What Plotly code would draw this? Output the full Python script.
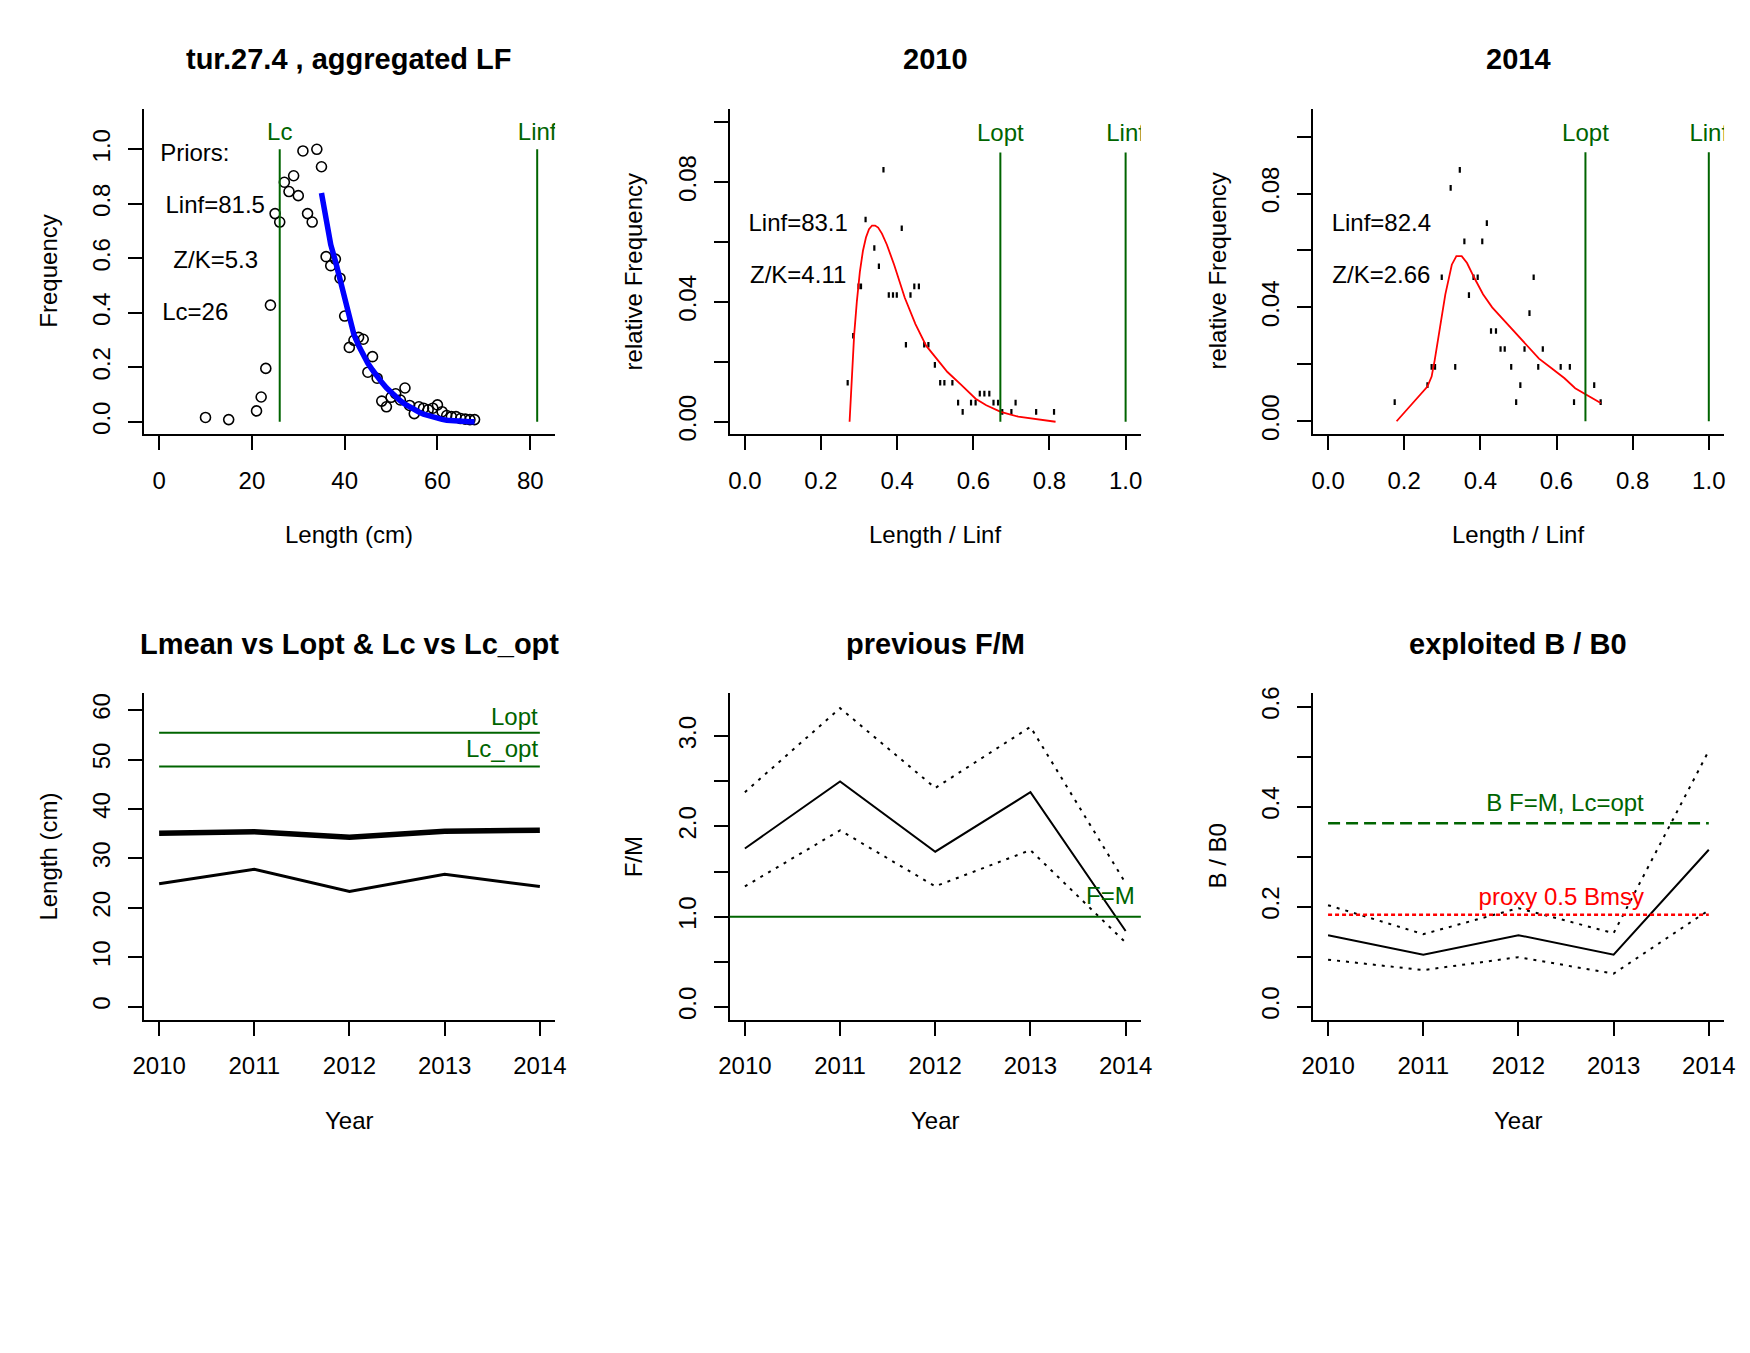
import plotly.graph_objects as go

# The page body keeps its default 8px margin; the figure is kept a little smaller than the
# 1750x1353 window so that nothing overflows, and reference pixel positions are shifted by it.
OFF = 8
W, H = 1730, 1330
FONT = "Arial, 'Liberation Sans', sans-serif"
GREEN = "#006400"

# ---------------- data ----------------
len_agg = [10, 15, 21, 22, 23, 24, 25, 26, 27, 28, 29, 30, 31, 32, 33, 34, 35, 36, 37, 38,
           39, 40, 41, 42, 43, 44, 45, 46, 47, 48, 49, 50, 51, 52, 53, 54, 55, 56, 57, 58,
           59, 60, 61, 62, 63, 64, 65, 66, 67, 68]
freq_agg = [0.016, 0.008, 0.040, 0.091, 0.196, 0.428, 0.764, 0.733, 0.879, 0.845, 0.903, 0.830,
            0.994, 0.764, 0.733, 1.000, 0.936, 0.606, 0.573, 0.597, 0.527, 0.388, 0.273, 0.299,
            0.310, 0.303, 0.182, 0.239, 0.160, 0.076, 0.055, 0.090, 0.103, 0.080, 0.124, 0.060,
            0.030, 0.055, 0.050, 0.044, 0.050, 0.062, 0.037, 0.023, 0.019, 0.019, 0.012, 0.010,
            0.008, 0.008]
len_fit = [35, 36, 37, 38, 39, 40, 41, 42, 43, 44, 45, 46, 47, 48, 49, 50, 51, 52, 53, 54, 55,
           56, 57, 58, 59, 60, 61, 62, 63, 64, 65, 66, 67, 68]
freq_fit = [0.84, 0.73, 0.65, 0.59, 0.52, 0.45, 0.38, 0.32, 0.28, 0.245, 0.215, 0.19, 0.165,
            0.145, 0.125, 0.107, 0.091, 0.077, 0.065, 0.054, 0.044, 0.036, 0.028, 0.022, 0.017,
            0.012, 0.009, 0.006, 0.004, 0.003, 0.002, 0.001, 0.0005, 0.0]
Linf_prior = 81.5
Lc_prior = 26
ZK_prior = 5.3

rel_2010 = [0.270, 0.2845, 0.2985, 0.305, 0.317, 0.340, 0.352, 0.364, 0.378, 0.389, 0.399, 0.412,
            0.423, 0.435, 0.445, 0.457, 0.471, 0.482, 0.499, 0.513, 0.524, 0.545, 0.560, 0.572,
            0.594, 0.606, 0.617, 0.629, 0.642, 0.653, 0.665, 0.676, 0.700, 0.711, 0.765, 0.812]
freq_2010 = [0.0130, 0.0287, 0.0452, 0.0452, 0.0675, 0.0580, 0.0519, 0.0841, 0.0423, 0.0423,
             0.0423, 0.0646, 0.0257, 0.0423, 0.0452, 0.0452, 0.0257, 0.0257, 0.0190, 0.0130,
             0.0130, 0.0130, 0.0064, 0.0033, 0.0064, 0.0064, 0.0094, 0.0094, 0.0094, 0.0064,
             0.0064, 0.0033, 0.0033, 0.0064, 0.0033, 0.0033]
fit_rel_2010 = [0.275, 0.278, 0.282, 0.287, 0.294, 0.302, 0.310, 0.318, 0.326, 0.334, 0.342, 0.350,
                0.360, 0.373, 0.392, 0.420, 0.448, 0.476, 0.504, 0.532, 0.569, 0.606, 0.634,
                0.672, 0.718, 0.756, 0.793, 0.816]
fit_2010 = [0.0, 0.008, 0.018, 0.029, 0.040, 0.050, 0.057, 0.0615, 0.0643, 0.0655, 0.0655, 0.0648,
            0.0628, 0.0591, 0.0524, 0.0414, 0.0326, 0.0254, 0.0210, 0.0166, 0.0122, 0.0077,
            0.0055, 0.0033, 0.0017, 0.0011, 0.0003, 0.0]
Linf_2010 = 83.1
ZK_2010 = 4.11
Lopt_rel_2010 = 0.671

rel_2014 = [0.175, 0.261, 0.272, 0.281, 0.2986, 0.322, 0.334, 0.346, 0.358, 0.370, 0.382, 0.393,
            0.405, 0.417, 0.428, 0.441, 0.453, 0.464, 0.481, 0.494, 0.505, 0.516, 0.529, 0.540,
            0.552, 0.564, 0.611, 0.635, 0.646, 0.699, 0.716]
freq_2014 = [0.0067, 0.0127, 0.0191, 0.0191, 0.0506, 0.0820, 0.0191, 0.0883, 0.0632, 0.0443,
             0.0506, 0.0506, 0.0632, 0.0696, 0.0317, 0.0317, 0.0254, 0.0254, 0.0191, 0.0067,
             0.0127, 0.0254, 0.0380, 0.0506, 0.0191, 0.0254, 0.0191, 0.0191, 0.0067, 0.0127,
             0.0067]
fit_rel_2014 = [0.180, 0.223, 0.261, 0.272, 0.280, 0.294, 0.308, 0.325, 0.337, 0.351, 0.365, 0.384,
                0.407, 0.431, 0.455, 0.488, 0.521, 0.554, 0.587, 0.621, 0.649, 0.678, 0.716]
fit_2014 = [0.0, 0.0064, 0.0122, 0.0157, 0.0214, 0.033, 0.0446, 0.055, 0.058, 0.058, 0.0556,
            0.0504, 0.0446, 0.040, 0.0365, 0.0319, 0.0267, 0.022, 0.0186, 0.0151, 0.0116,
            0.0093, 0.0064]
Linf_2014 = 82.4
ZK_2014 = 2.66
Lopt_rel_2014 = 0.676

years = [2010, 2011, 2012, 2013, 2014]
Lmean = [35.1, 35.4, 34.3, 35.5, 35.7]
Lc_year = [24.9, 27.8, 23.3, 26.8, 24.3]
Lopt = 55.4
Lc_opt = 48.6

FM = [1.756, 2.499, 1.720, 2.379, 0.842]
FM_hi = [2.379, 3.310, 2.426, 3.103, 1.372]
FM_lo = [1.336, 1.957, 1.336, 1.738, 0.714]
FM_ref = 1.0

BB0 = [0.143, 0.104, 0.143, 0.104, 0.314]
BB0_hi = [0.203, 0.145, 0.197, 0.147, 0.512]
BB0_lo = [0.094, 0.073, 0.099, 0.066, 0.193]
B_FM_Lcopt = 0.367
proxy_half_Bmsy = 0.184

# ---------------- layout geometry (page pixels) ----------------
cols = [134.5, 727.8, 1318.5]
pw = 416.5
rows = [(102.7, 431.8), (693.5, 1023.3)]


def px(x):
    return (x - OFF) / W


def py(y):
    return 1 - (y - OFF) / H


def geom(i):
    r, c = divmod(i, 3)
    left = cols[c]
    right = left + pw
    top, bot = rows[r]
    return left, right, top, bot


def xa(i):
    return "x" if i == 0 else f"x{i+1}"


def ya(i):
    return "y" if i == 0 else f"y{i+1}"


fig = go.Figure()


def line(i, x, y, color="black", width=2, dash="solid"):
    fig.add_trace(go.Scatter(x=x, y=y, mode="lines", xaxis=xa(i), yaxis=ya(i),
                             line=dict(color=color, width=width, dash=dash),
                             showlegend=False, hoverinfo="skip"))


def text(i, x, y, s, color="black", size=24):
    fig.add_trace(go.Scatter(x=[x], y=[y], mode="text", text=[s], xaxis=xa(i), yaxis=ya(i),
                             textposition="middle center", cliponaxis=True,
                             textfont=dict(family=FONT, size=size, color=color),
                             showlegend=False, hoverinfo="skip"))


fig.add_trace(go.Scatter(x=len_agg, y=freq_agg, mode="markers", xaxis="x", yaxis="y",
                         marker=dict(symbol="circle-open", size=10, color="black",
                                     line=dict(width=1.6, color="black")),
                         showlegend=False, hoverinfo="skip"))
line(0, len_fit, freq_fit, color="#0000FF", width=5.5)
line(0, [Lc_prior, Lc_prior], [0, 1.0], color=GREEN, width=2)
line(0, [Linf_prior, Linf_prior], [0, 1.0], color=GREEN, width=2)
text(0, Lc_prior, 1.057, "Lc", GREEN)
text(0, Linf_prior, 1.057, "Linf", GREEN)
text(0, 7.7, 0.98, "Priors:")
text(0, 12.1, 0.79, f"Linf={Linf_prior}")
text(0, 12.2, 0.585, f"Z/K={ZK_prior}")
text(0, 7.8, 0.395, f"Lc={Lc_prior}")

for i, rx, fy, frx, fty, lopt, linf, zk, ymaxl in [
        (1, rel_2010, freq_2010, fit_rel_2010, fit_2010, Lopt_rel_2010, Linf_2010, ZK_2010, 0.0899),
        (2, rel_2014, freq_2014, fit_rel_2014, fit_2014, Lopt_rel_2014, Linf_2014, ZK_2014, 0.0945)]:
    fig.add_trace(go.Scatter(x=rx, y=fy, mode="markers", xaxis=xa(i), yaxis=ya(i),
                             marker=dict(symbol="line-ns", size=4, color="black",
                                         line=dict(width=2.2, color="black")),
                             showlegend=False, hoverinfo="skip"))
    line(i, frx, fty, color="#FF0000", width=1.8)
    line(i, [lopt, lopt], [0, ymaxl], color=GREEN, width=2)
    line(i, [1.0, 1.0], [0, ymaxl], color=GREEN, width=2)
    lab_y = ymaxl * 1.064
    text(i, lopt, lab_y, "Lopt", GREEN)
    text(i, 1.0, lab_y, "Linf", GREEN)
    yl = 0.0657 if i == 1 else 0.069
    yz = 0.0482 if i == 1 else 0.0506
    text(i, 0.14, yl, f"Linf={linf}")
    text(i, 0.14, yz, f"Z/K={zk}")

line(3, years, Lmean, width=5.5)
line(3, years, Lc_year, width=3)
line(3, [years[0], years[-1]], [Lopt, Lopt], color=GREEN, width=2)
line(3, [years[0], years[-1]], [Lc_opt, Lc_opt], color=GREEN, width=2)

line(4, years, FM, width=2)
line(4, years, FM_hi, width=2, dash="3px,6px")
line(4, years, FM_lo, width=2, dash="3px,6px")
fig.add_shape(type="line", xref="x5 domain", yref="y5", x0=0, x1=1, y0=FM_ref, y1=FM_ref,
              line=dict(color=GREEN, width=2))
text(4, 2013.84, 1.21, "F=M", GREEN)

line(5, years, BB0, width=2)
line(5, years, BB0_hi, width=2, dash="3px,6px")
line(5, years, BB0_lo, width=2, dash="3px,6px")
line(5, [years[0], years[-1]], [B_FM_Lcopt, B_FM_Lcopt], color=GREEN, width=2.5, dash="12px,6px")
line(5, [years[0], years[-1]], [proxy_half_Bmsy, proxy_half_Bmsy], color="#FF0000", width=2.5,
     dash="4px,3px")
text(5, 2012.49, 0.403, "B F=M, Lc=opt", GREEN)
text(5, 2012.45, 0.215, "proxy 0.5 Bmsy", "#FF0000")

yr_ticks = years
axes_spec = [
    dict(xr=[-3.28, 85.36], xt=[0, 20, 40, 60, 80], xl=["0", "20", "40", "60", "80"],
         yr=[-0.046, 1.149], yt=[0, 0.2, 0.4, 0.6, 0.8, 1.0],
         yl=["0.0", "0.2", "0.4", "0.6", "0.8", "1.0"],
         title="tur.27.4 , aggregated LF", xtitle="Length (cm)", ytitle="Frequency"),
    dict(xr=[-0.04, 1.04], xt=[0, 0.2, 0.4, 0.6, 0.8, 1.0],
         xl=["0.0", "0.2", "0.4", "0.6", "0.8", "1.0"],
         yr=[-0.0042, 0.1045], yt=[0, 0.02, 0.04, 0.06, 0.08, 0.10],
         yl=["0.00", "", "0.04", "", "0.08", ""],
         title="2010", xtitle="Length / Linf", ytitle="relative Frequency"),
    dict(xr=[-0.04, 1.04], xt=[0, 0.2, 0.4, 0.6, 0.8, 1.0],
         xl=["0.0", "0.2", "0.4", "0.6", "0.8", "1.0"],
         yr=[-0.0046, 0.1098], yt=[0, 0.02, 0.04, 0.06, 0.08, 0.10],
         yl=["0.00", "", "0.04", "", "0.08", ""],
         title="2014", xtitle="Length / Linf", ytitle="relative Frequency"),
    dict(xr=[2009.84, 2014.16], xt=yr_ticks, xl=[str(y) for y in yr_ticks],
         yr=[-2.6, 63.4], yt=[0, 10, 20, 30, 40, 50, 60],
         yl=["0", "10", "20", "30", "40", "50", "60"],
         title="Lmean vs Lopt & Lc vs Lc_opt", xtitle="Year", ytitle="Length (cm)"),
    dict(xr=[2009.84, 2014.16], xt=yr_ticks, xl=[str(y) for y in yr_ticks],
         yr=[-0.14, 3.475], yt=[0, 0.5, 1.0, 1.5, 2.0, 2.5, 3.0],
         yl=["0.0", "", "1.0", "", "2.0", "", "3.0"],
         title="previous F/M", xtitle="Year", ytitle="F/M"),
    dict(xr=[2009.84, 2014.16], xt=yr_ticks, xl=[str(y) for y in yr_ticks],
         yr=[-0.026, 0.627], yt=[0, 0.1, 0.2, 0.3, 0.4, 0.5, 0.6],
         yl=["0.0", "", "0.2", "", "0.4", "", "0.6"],
         title="exploited B / B0", xtitle="Year", ytitle="B / B0"),
]

common = dict(showline=True, linecolor="black", linewidth=2, ticks="outside", ticklen=14,
              tickwidth=2, tickcolor="black", showgrid=False, zeroline=False,
              tickfont=dict(family=FONT, size=24, color="black"), fixedrange=True,
              tickmode="array")

annotations = []
layout_axes = {}
for i, s in enumerate(axes_spec):
    left, right, top, bot = geom(i)
    xname = "xaxis" if i == 0 else f"xaxis{i+1}"
    yname = "yaxis" if i == 0 else f"yaxis{i+1}"
    layout_axes[xname] = dict(common, domain=[px(left), px(right)], range=s["xr"],
                              tickvals=s["xt"], ticktext=s["xl"], anchor=ya(i),
                              ticklabelstandoff=10)
    layout_axes[yname] = dict(common, domain=[py(bot), py(top)], range=s["yr"],
                              tickvals=s["yt"], ticktext=s["yl"], anchor=xa(i),
                              tickangle=-90, ticklabelstandoff=8)
    cx = (left + right) / 2
    annotations.append(dict(text=f"<b>{s['title']}</b>", x=px(cx), y=py(top - 50),
                            xref="paper", yref="paper", xanchor="center", yanchor="middle",
                            showarrow=False, font=dict(family=FONT, size=29, color="black")))
    annotations.append(dict(text=s["xtitle"], x=px(cx), y=py(bot + 101.5),
                            xref="paper", yref="paper", xanchor="center", yanchor="middle",
                            showarrow=False, font=dict(family=FONT, size=24, color="black")))
    annotations.append(dict(text=s["ytitle"], x=px(left - 97), y=py((top + bot) / 2),
                            xref="paper", yref="paper", xanchor="center", yanchor="middle",
                            textangle=-90, showarrow=False,
                            font=dict(family=FONT, size=24, color="black")))

annotations.append(dict(text="Lopt", x=years[-1], y=58.7, xref="x4", yref="y4", xanchor="right",
                        yanchor="middle", showarrow=False,
                        font=dict(family=FONT, size=24, color=GREEN)))
annotations.append(dict(text="Lc_opt", x=years[-1], y=52.3, xref="x4", yref="y4",
                        xanchor="right", yanchor="middle", showarrow=False,
                        font=dict(family=FONT, size=24, color=GREEN)))

fig.update_layout(width=W, height=H, autosize=False, margin=dict(l=0, r=0, t=0, b=0),
                  paper_bgcolor="white", plot_bgcolor="white", showlegend=False,
                  font=dict(family=FONT, color="black"), annotations=annotations,
                  **layout_axes)

fig.write_html("out.html", config={"displayModeBar": False})
